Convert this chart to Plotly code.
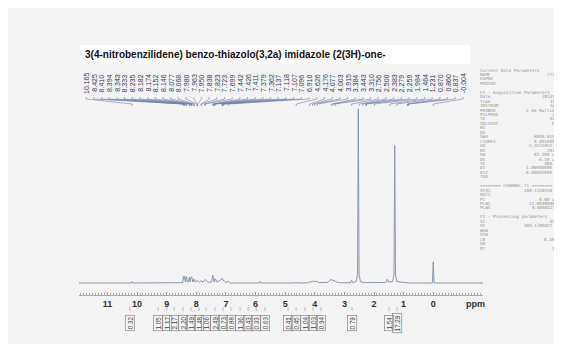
import plotly.graph_objects as go

# ---------------- data ----------------
title_text = "3(4-nitrobenzilidene) benzo-thiazolo(3,2a) imidazole (2(3H)-one-"

spec_ppm = [11.96, 10.20, 10.17, 10.14,
            8.46, 8.43, 8.41, 8.39, 8.37, 8.345, 8.33, 8.30, 8.26, 8.235, 8.21, 8.185, 8.17, 8.155, 8.145, 8.12,
            8.08, 8.065, 8.03, 7.98, 7.965, 7.95, 7.90, 7.84, 7.82, 7.78, 7.725, 7.70, 7.60, 7.48, 7.445, 7.425,
            7.41, 7.395, 7.38, 7.36, 7.30, 7.14, 7.12, 7.105, 7.095, 7.00, 6.91, 6.85,
            5.87, 5.84, 5.81,
            4.66, 4.63, 4.60,
            4.21, 4.18, 4.12, 4.08, 4.04, 4.00, 3.96, 3.92, 3.87,
            3.55, 3.46, 3.40, 3.33, 3.20,
            2.80, 2.76, 2.72,
            2.60, 2.555, 2.53, 2.505, 2.46, 2.30,
            1.60, 1.55, 1.50, 1.37, 1.325, 1.30, 1.275, 1.23,
            0.90, 0.86, 0.82,
            0.03, 0.00, -0.03, -1.68]
spec_int = [0, 0, 0.008, 0,
            0.002, 0.040, 0.022, 0.038, 0.006, 0.030, 0.036, 0.006, 0.008, 0.032, 0.006, 0.030, 0.036, 0.028, 0.030, 0.006,
            0.020, 0.022, 0.004, 0.012, 0.016, 0.012, 0.004, 0.012, 0.013, 0.004, 0.016, 0.020, 0.004, 0.006, 0.045, 0.030,
            0.026, 0.006, 0.022, 0.024, 0.004, 0.020, 0.026, 0.020, 0.016, 0.003, 0.010, 0,
            0, 0.010, 0,
            0, 0.006, 0,
            0.001, 0.008, 0.004, 0.012, 0.006, 0.012, 0.006, 0.010, 0.002,
            0.004, 0.020, 0.016, 0.012, 0.002,
            0.001, 0.016, 0.002,
            0.008, 0.05, 0.99, 0.05, 0.008, 0.002,
            0.003, 0.022, 0.005, 0.008, 0.05, 0.78, 0.05, 0.008,
            0.001, 0.004, 0,
            0, 0.12, 0, 0]

peak_labels = ["10.165", "8.425", "8.410", "8.394", "8.343", "8.333", "8.235", "8.182", "8.174", "8.152",
               "8.146", "8.077", "8.068", "7.980", "7.963", "7.950", "7.838", "7.823", "7.723", "7.699",
               "7.442", "7.426", "7.411", "7.379", "7.362", "7.137", "7.118", "7.107", "7.096", "6.910",
               "4.626", "4.176", "4.077", "4.003", "3.915", "3.384", "3.443", "3.310", "2.756", "2.500",
               "2.383", "2.279", "2.259", "1.984", "1.464", "1.231", "0.870", "0.860", "0.837", "-0.004"]

integral_ppm = [10.24, 9.29, 8.99, 8.75, 8.45, 8.18, 7.91, 7.67, 7.37, 7.10, 6.83, 6.52, 6.25, 5.98, 5.68,
                4.90, 4.63, 4.33, 4.06, 3.79, 2.74, 1.49, 1.22]
integral_vals = ["0.32", "1.05", "1.17", "2.17", "2.20", "1.49", "1.48", "1.06", "2.49", "0.73", "0.88", "1.36",
                 "0.43", "0.33", "0.63", "0.41", "0.45", "1.04", "1.03", "0.94", "0.79", "1.54", "17.29"]

axis_ticks = [11, 10, 9, 8, 7, 6, 5, 4, 3, 2, 1, 0]

param_keys = ["Current Data Parameters", "NAME", "EXPNO", "PROCNO", "",
              "F2 - Acquisition Parameters", "Date_", "Time", "INSTRUM", "PROBHD", "PULPROG", "TD", "SOLVENT",
              "NS", "DS", "SWH", "FIDRES", "AQ", "RG", "DW", "DE", "TE", "D1", "D12", "TD0", "",
              "======== CHANNEL f1 ========", "SFO1", "NUC1", "P1", "PLW1", "PLW5", "",
              "F2 - Processing parameters", "SI", "SF", "WDW", "SSB", "LB", "GB", "PC"]
param_vals = ["", "7772.A", "1", "1", "",
              "", "20131010", "15.33", "spect", "5 mm Multinucl", "zg30", "65536", "DMSO",
              "32", "2", "6009.615 Hz", "0.091699 Hz", "5.4525952 sec", "203.21", "83.200 usec", "6.50 usec",
              "300.0 K", "1.00000000 sec", "0.00002000 sec", "1", "",
              "", "500.1310550 MHz", "1H", "8.80 usec", "12.00000000 W", "0.00002215 W", "",
              "", "65536", "500.1300027 MHz", "EM", "0", "0.30 Hz", "0", "1.00"]

# ---------------- layout constants ----------------
W, H = 562, 344
ML, MR, MT, MB = 71, 87, 90, 57
PW, PH = W - ML - MR, H - MT - MB
X0, X1 = 11.96, -1.68          # ppm at left / right edge of plot area
BASE_PX = 275                   # baseline pixel row
UNIT_PX = 176                   # pixels per unit intensity
Y0 = -(H - MB - BASE_PX) / UNIT_PX
Y1 = (BASE_PX - MT) / UNIT_PX

def py(y):   # pixel row -> paper y
    return (H - MB - y) / PH

def px(x):   # pixel col -> paper x
    return (x - ML) / PW

def px2ppm(x):
    return X0 + (X1 - X0) * (x - ML) / PW

ink = "#8797ae"
fig = go.Figure()
fig.add_trace(go.Scatter(x=spec_ppm, y=spec_int, mode="lines",
                         line=dict(color=ink, width=1), hoverinfo="skip", showlegend=False))

shapes = []
ann = []

# white box behind title
shapes.append(dict(type="rect", xref="paper", yref="paper", x0=px(72), x1=px(462), y0=py(56), y1=py(37),
                   fillcolor="white", line=dict(width=0), layer="below"))
ann.append(dict(text="<b>" + title_text + "</b>", xref="paper", yref="paper", x=px(75), y=py(47),
                xanchor="left", yanchor="middle", showarrow=False,
                font=dict(family="Liberation Sans, Arial", size=10, color="#111")))

# peak labels with fan lines
n = len(peak_labels)
for i, lab in enumerate(peak_labels):
    xl_px = 78 + i * (455 - 78) / (n - 1)
    xl = px2ppm(xl_px)
    ann.append(dict(text=lab, xref="x", yref="paper", x=xl, y=py(75), textangle=-90,
                    xanchor="center", yanchor="middle", showarrow=False,
                    font=dict(family="Liberation Sans, Arial", size=7, color="#2f3b5c")))
    xp = float(lab)
    shapes.append(dict(type="path", xref="x", yref="paper",
                       path=f"M {xl},{py(89)} L {xl},{py(91)} L {xp},{py(96)} L {xp},{py(98)}",
                       line=dict(color="#6f7ea3", width=0.6)))

# integral labels
for xv, v in zip(integral_ppm, integral_vals):
    ann.append(dict(text=v, xref="x", yref="paper", x=xv, y=py(315), textangle=-90,
                    xanchor="center", yanchor="middle", showarrow=False,
                    bordercolor="#888", borderwidth=0.7, borderpad=1,
                    font=dict(family="Liberation Sans, Arial", size=6.3, color="#444")))
    shapes.append(dict(type="path", xref="x", yref="paper",
                       path=f"M {xv},{py(303)} L {xv},{py(299)}",
                       line=dict(color="#999", width=0.6)))

# ppm label
ann.append(dict(text="<b>ppm</b>", xref="paper", yref="paper", x=px(467), y=py(296),
                xanchor="center", yanchor="middle", showarrow=False,
                font=dict(family="Liberation Sans, Arial", size=9, color="#333")))

# acquisition parameter block
step = 4.45
for k, (key, val) in enumerate(zip(param_keys, param_vals)):
    yy = py(62 + k * step)
    if key:
        ann.append(dict(text=key, xref="paper", yref="paper", x=px(470), y=yy, xanchor="left",
                        yanchor="middle", showarrow=False,
                        font=dict(family="DejaVu Sans Mono", size=4.3, color="#959595")))
    if val:
        ann.append(dict(text=val, xref="paper", yref="paper", x=px(557), y=yy, xanchor="right",
                        yanchor="middle", showarrow=False,
                        font=dict(family="DejaVu Sans Mono", size=4.3, color="#959595")))

fig.update_layout(
    width=W, height=H,
    margin=dict(l=ML, r=MR, t=MT, b=MB),
    paper_bgcolor="#f4f4f4", plot_bgcolor="#f4f4f4",
    shapes=shapes, annotations=ann, showlegend=False,
    xaxis=dict(range=[X0, X1], tickvals=axis_ticks, ticktext=["<b>%d</b>" % t for t in axis_ticks],
               showgrid=False, zeroline=False, showline=True, linecolor="#aaa", linewidth=0.6,
               ticks="inside", ticklen=3, tickcolor="#999", tickwidth=0.8,
               minor=dict(dtick=0.1, ticks="inside", ticklen=2, tickcolor="#aaa", tickwidth=0.5, showgrid=False),
               tickfont=dict(family="Liberation Sans, Arial", size=9, color="#333")),
    yaxis=dict(range=[Y0, Y1], visible=False),
)
fig.write_html("out.html")
